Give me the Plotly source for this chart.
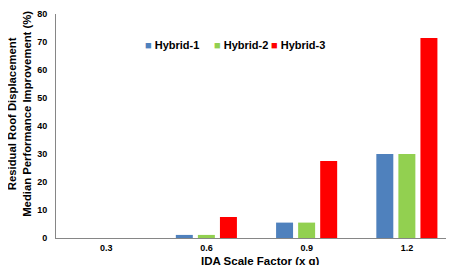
import plotly.graph_objects as go

categories = ["0.3", "0.6", "0.9", "1.2"]
hybrid1 = [0, 1.1, 5.5, 30]
hybrid2 = [0, 1.1, 5.5, 30]
hybrid3 = [0, 7.5, 27.5, 71.4]
series_names = ["Hybrid-1", "Hybrid-2", "Hybrid-3"]
series_colors = ["#4F81BD", "#92D050", "#FF0000"]
y_ticks = [0, 10, 20, 30, 40, 50, 60, 70, 80]

font_family = "Liberation Sans, Arial, sans-serif"

fig = go.Figure()
for name, vals, col in zip(series_names, [hybrid1, hybrid2, hybrid3], series_colors):
    fig.add_bar(x=categories, y=vals, name=name, marker_color=col, marker_line_width=0)

# manual legend (compact, like the reference)
legend_x = [0.217, 0.389, 0.531]
for name, col, lx in zip(series_names, series_colors, legend_x):
    fig.add_annotation(
        x=lx, y=0.862, xref="paper", yref="paper", xanchor="left", yanchor="middle",
        text=f"<span style='color:{col}'>■</span> {name}", showarrow=False,
        font=dict(size=11, family=font_family, weight="bold", color="#000000"),
    )

# axis titles
fig.add_annotation(
    x=-0.09, y=0.554, xref="paper", yref="paper", xanchor="center", yanchor="middle",
    text="Residual Roof Displacement<br>Median Performance Improvement (%)",
    textangle=-90, showarrow=False,
    font=dict(size=11.3, family=font_family, weight="bold", color="#000000"),
)
fig.add_annotation(
    x=0.509, y=-0.103, xref="paper", yref="paper", xanchor="center", yanchor="middle",
    text="IDA Scale Factor (x g)", showarrow=False,
    font=dict(size=11.5, family=font_family, weight="bold", color="#000000"),
)

fig.update_layout(
    width=454, height=265,
    margin=dict(l=48, r=5, t=6, b=35, autoexpand=False),
    paper_bgcolor="white", plot_bgcolor="white",
    barmode="group", bargap=0.34, bargroupgap=0.23,
    font=dict(family=font_family, color="#000000"),
    showlegend=False,
)
fig.update_yaxes(
    range=[0, 80], tickvals=y_ticks, showgrid=False, zeroline=False,
    showline=True, linecolor="#868686", linewidth=1,
    ticks="", ticklabelstandoff=6, tickfont=dict(size=9, weight="bold"),
    automargin=False,
)
fig.update_xaxes(
    showgrid=False, showline=True, linecolor="#868686", linewidth=1,
    ticks="", ticklabelstandoff=1, tickfont=dict(size=9, weight="bold"),
    automargin=False,
)

fig.write_html("out.html")
